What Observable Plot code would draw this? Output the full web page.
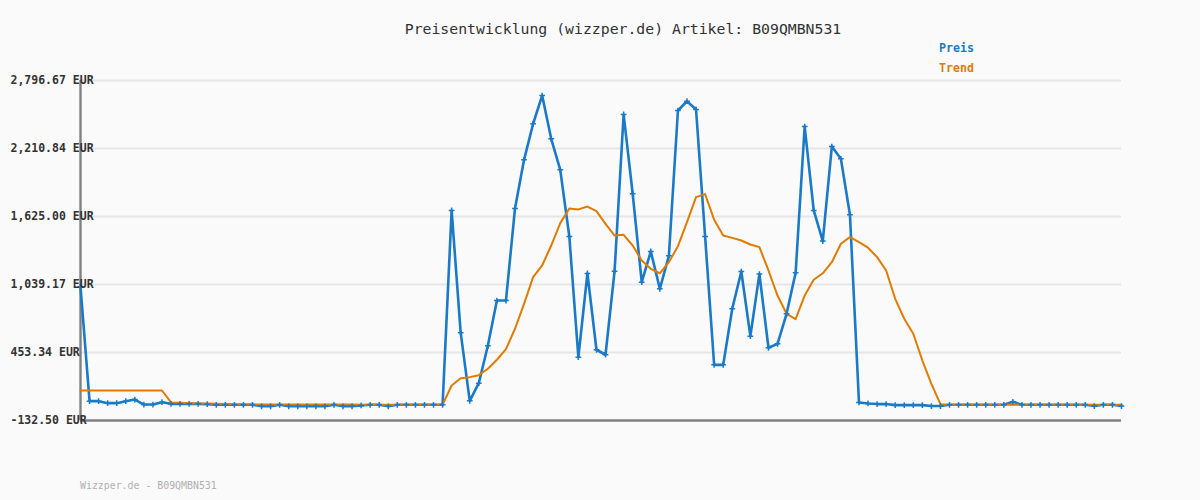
<!DOCTYPE html>
<html>
<head>
<meta charset="utf-8">
<script src="https://cdn.jsdelivr.net/npm/d3@7"></script>
<script src="https://cdn.jsdelivr.net/npm/@observablehq/plot@0.6"></script>
<style>
  html, body { margin: 0; padding: 0; background: #fafafa; }
  #wrap { position: relative; width: 1200px; height: 500px; background: #fafafa; }
  #chart { position: absolute; left: 0; top: 0; }
  .t { position: absolute; font-family: "DejaVu Sans Mono", "Liberation Mono", monospace; white-space: nowrap; }
  #title { left: 0; width: 1246px; top: 20px; text-align: center; font-size: 14.8px; color: #333; }
  .leg { left: 939px; font-size: 11.6px; font-weight: bold; }
  #footer { left: 80px; top: 480px; font-size: 9.9px; color: #b0b0b0; }
</style>
</head>
<body>
<div id="wrap">
  <div id="chart"></div>
  <div class="t" id="title">Preisentwicklung (wizzper.de) Artikel: B09QMBN531</div>
  <div class="t leg" style="top:41px;color:#1a7ac4">Preis</div>
  <div class="t leg" style="top:61px;color:#e07b00">Trend</div>
  <div class="t" id="footer">Wizzper.de - B09QMBN531</div>
</div>
<script>
const preis = [
  1020, 34, 34, 17, 17, 34, 48, 5, 5, 25,
  11, 11, 11, 11, 8, 3, 3, 3, 3, 3,
  -10, -10, 3, -10, -10, -10, -10, -10, 3, -10,
  -10, -3, 3, 3, -10, 3, 3, 3, 3, 3,
  3, 1677, 623, 37, 189, 511, 901, 901, 1694, 2113,
  2424, 2667, 2294, 2027, 1453, 413, 1134, 477, 434, 1154,
  2504, 1821, 1059, 1324, 1002, 1287, 2538, 2618, 2547, 1453,
  347, 347, 830, 1151, 594, 1129, 494, 528, 787, 1140,
  2400, 1677, 1413, 2228, 2122, 1640, 23, 14, 9, 9,
  0, 0, 0, 0, -8, -8, 3, 3, 3, 3,
  3, 3, 3, 29, 3, 3, 3, 3, 3, 3,
  3, 3, -8, 3, 3, -8
];
const trend = [
  126, 126, 126, 126, 126, 126, 126, 126, 126, 126,
  23, 20, 17, 15, 13, 11, 10, 8, 7, 5,
  5, 5, 5, 5, 5, 5, 5, 5, 5, 5,
  5, 3, 3, 3, 3, 3, 3, 3, 3, 3,
  3, 169, 232, 241, 258, 313, 391, 483, 658, 873,
  1103, 1203, 1375, 1568, 1694, 1686, 1711, 1671, 1562, 1461,
  1467, 1375, 1246, 1174, 1136, 1231, 1369, 1576, 1792, 1818,
  1597, 1461, 1441, 1418, 1384, 1361, 1160, 944, 787, 740,
  944, 1080, 1136, 1231, 1390, 1447, 1404, 1356, 1275, 1160,
  916, 744, 615, 384, 183, 8, 3, 3, 3, 3,
  3, 3, 3, 3, 3, 3, 3, 3, 3, 3,
  3, 3, 3, 3, 3, 3
];
const tickValues = [-132.50, 453.34, 1039.17, 1625.00, 2210.84, 2796.67];
const tickLabels = ["-132.50 EUR", "453.34 EUR", "1,039.17 EUR", "1,625.00 EUR", "2,210.84 EUR", "2,796.67 EUR"];

const preisData = preis.map((v, i) => ({i, v}));
const trendData = trend.map((v, i) => ({i, v}));
const ticks = tickValues.map((v, k) => ({v, label: tickLabels[k]}));
const n = preis.length;

const chart = Plot.plot({
  width: 1200,
  height: 500,
  marginLeft: 80,
  marginRight: 79,
  marginTop: 80,
  marginBottom: 80,
  style: {background: "#fafafa", fontFamily: "'DejaVu Sans Mono', monospace"},
  x: {domain: [0, n - 1], axis: null},
  y: {domain: [tickValues[0], tickValues[tickValues.length - 1]], axis: null},
  marks: [
    Plot.ruleY(ticks.slice(1), {y: "v", stroke: "#e6e6e6", strokeWidth: 2.2}),
    Plot.ruleX([0], {stroke: "#808080", strokeWidth: 2.4}),
    Plot.ruleY([tickValues[0]], {stroke: "#808080", strokeWidth: 2.4}),
    Plot.line(preisData, {x: "i", y: "v", stroke: "#1a7ac8", strokeWidth: 2.6, strokeLinejoin: "round"}),
    Plot.line(trendData, {x: "i", y: "v", stroke: "#e07b00", strokeWidth: 2, strokeLinejoin: "round"}),
    Plot.dot(preisData, {x: "i", y: "v", symbol: "plus", r: 2, stroke: "#1a7ac8", strokeWidth: 1.5, fill: "none"}),
    Plot.text(ticks, {y: "v", text: "label", frameAnchor: "left", dx: -70, textAnchor: "start",
      fontSize: 11.5, fontWeight: "bold", fill: "#333", fontFamily: "'DejaVu Sans Mono', monospace"})
  ]
});
document.getElementById("chart").appendChild(chart);
</script>
</body>
</html>
